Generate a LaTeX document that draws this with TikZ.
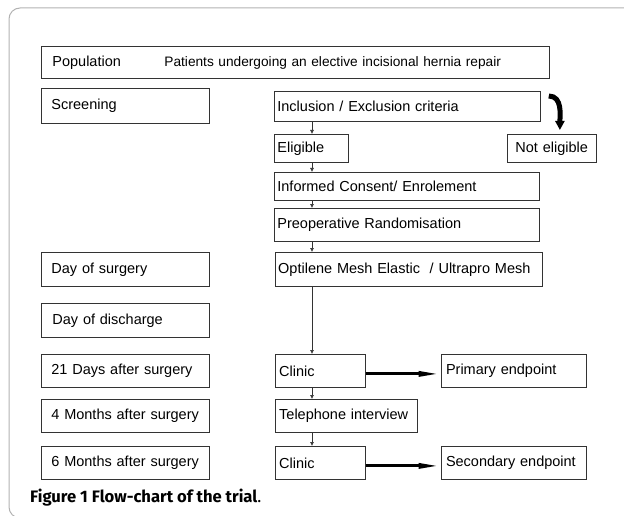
\documentclass[tikz,border=0pt]{standalone}
\usepackage{fontspec}
\setmainfont{Liberation Sans}
\newfontfamily\capfont{Fira Sans}
\usetikzlibrary{positioning,arrows.meta}

\begin{document}
\begin{tikzpicture}[x=1pt, y=-1pt,
    flowbox/.style={rectangle, draw=black!80, line width=0.8pt, anchor=north west, inner ysep=0pt, align=left, font=\fontsize{14.5}{16}\selectfont},
    thinarrow/.style={-{Latex[length=4pt,width=4pt]}, line width=0.6pt, draw=black!80},
    thickarrow/.style={-{Triangle[length=22pt,width=5pt]}, line width=3pt},
    bendarrow/.style={-{Triangle[length=9pt,width=9pt]}, line width=5pt}]

    \useasboundingbox (0,0) rectangle (624,516);
    \draw[gray!60, line width=1pt, rounded corners=11pt] (9,8) rectangle (640,518);

    % left column
    \node[flowbox, inner xsep=11pt, text width=486pt, minimum height=32pt, font=\fontsize{13.7}{16}\selectfont] (pop) at (41,46) {\makebox[112pt][l]{\fontsize{14.5}{16}\selectfont Population}Patients undergoing an elective incisional hernia repair};
    \node[flowbox, inner xsep=10pt, text width=148pt, minimum height=35pt] (scr) at (41,88) {Screening};
    \node[flowbox, inner xsep=10pt, text width=148pt, minimum height=34pt] (dos) at (41,252) {Day of surgery};
    \node[flowbox, inner xsep=11pt, text width=146pt, minimum height=34pt] (dod) at (41,303) {Day of discharge};
    \node[flowbox, inner xsep=10pt, text width=148pt, minimum height=33pt] (d21) at (41,354) {21 Days after surgery};
    \node[flowbox, inner xsep=10pt, text width=148pt, minimum height=33pt] (m4) at (41,399) {4 Months after surgery};
    \node[flowbox, inner xsep=10pt, text width=148pt, minimum height=33pt] (m6) at (41,446) {6 Months after surgery};

    % trial path
    \node[flowbox, inner xsep=3pt, text width=260pt, minimum height=30pt] (incl) at (274,91) {Inclusion / Exclusion criteria};
    \node[flowbox, inner xsep=3pt, text width=68pt, minimum height=28pt] (elig) at (274,134) {Eligible};
    \node[flowbox, inner xsep=8pt, text width=73pt, minimum height=28pt] (noel) at (507,134) {Not eligible};
    \node[flowbox, inner xsep=3pt, text width=259pt, minimum height=28pt] (info) at (274,172) {Informed Consent/ Enrolement};
    \node[flowbox, inner xsep=3pt, text width=259pt, minimum height=33pt] (preop) at (274,208) {Preoperative Randomisation};
    \node[flowbox, inner xsep=3pt, text width=261pt, minimum height=34pt] (opt) [right=65pt of dos] {Optilene Mesh Elastic~ / Ultrapro Mesh};
    \node[flowbox, inner xsep=4pt, text width=82pt, minimum height=33pt] (cl1) [right=65pt of d21] {Clinic};
    \node[flowbox, inner xsep=5pt, text width=135pt, minimum height=33pt] (prim) [right=75pt of cl1] {Primary endpoint};
    \node[flowbox, inner xsep=4pt, text width=134pt, minimum height=33pt] (tel) [right=65pt of m4] {Telephone interview};
    \node[flowbox, inner xsep=4pt, text width=82pt, minimum height=33pt] (cl2) [right=65pt of m6] {Clinic};
    \node[flowbox, inner xsep=5pt, text width=135pt, minimum height=33pt] (sec) [right=75pt of cl2] {Secondary endpoint};

    \coordinate (axis) at (312,0);
    \draw[thinarrow] (incl.south -| axis) -- (elig.north -| axis);
    \draw[thinarrow] (elig.south -| axis) -- (info.north -| axis);
    \draw[thinarrow] (info.south -| axis) -- (preop.north -| axis);
    \draw[thinarrow] (preop.south -| axis) -- (opt.north -| axis);
    \draw[thinarrow] (opt.south -| axis) -- (cl1.north -| axis);
    \draw[thinarrow] (cl1.south -| axis) -- (tel.north -| axis);
    \draw[thinarrow] (tel.south -| axis) -- (cl2.north -| axis);

    \draw[bendarrow] ([xshift=8pt,yshift=-5pt]incl.north east) to[out=0,in=90] ([xshift=8pt,yshift=4pt]noel.north);
    \draw[thickarrow] ([yshift=-3pt]cl1.east) -- ([yshift=-3pt]prim.west);
    \draw[thickarrow] ([yshift=-3pt]cl2.east) -- ([yshift=-3pt]sec.west);

    \node[anchor=base west, inner sep=0pt, font=\capfont\fontsize{16.6}{20}\selectfont] (cap) at (30,502) {\bfseries Figure 1 Flow-chart of the trial\mdseries.};

\end{tikzpicture}
\end{document}
